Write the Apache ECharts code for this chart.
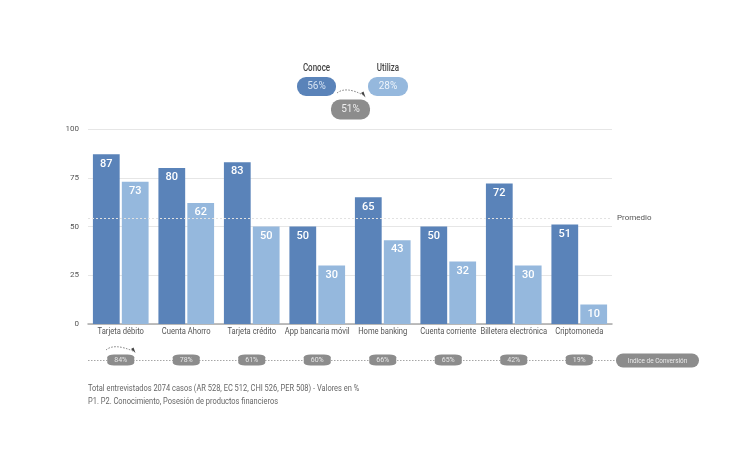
<!DOCTYPE html>
<html>
<head>
<meta charset="utf-8">
<script src="https://cdn.jsdelivr.net/npm/echarts@6/dist/echarts.min.js"></script>
<style>
  html, body { margin: 0; padding: 0; background: #fff; }
  #chart { width: 750px; height: 460px; }
</style>
</head>
<body>
<div id="chart"></div>
<script>
// datos
var categorias = ['Tarjeta débito', 'Cuenta Ahorro', 'Tarjeta crédito', 'App bancaria móvil',
  'Home banking', 'Cuenta corriente', 'Billetera electrónica', 'Criptomoneda'];
var conoce = [87, 80, 83, 50, 65, 50, 72, 51];
var utiliza = [73, 62, 50, 30, 43, 32, 30, 10];
var conversion = [84, 78, 61, 60, 66, 65, 42, 19];
var promedio = 54.25;
var resumen = { conoce: '56%', utiliza: '28%', conversion: '51%' };
var yTicks = [0, 25, 50, 75, 100];

var font = "Roboto, 'Liberation Sans', sans-serif";
var azul = '#5a83b9';
var celeste = '#95b8dd';
var gris = '#8c8c8c';
var estrecho = 0.8; // simula la tipografía condensada del original

var chart = echarts.init(document.getElementById('chart'));

var baseGraphic = [
  // línea punteada del índice de conversión
  {
    type: 'line', z: 1,
    shape: { x1: 88, y1: 360.5, x2: 618, y2: 360.5 },
    style: { stroke: '#8f8f8f', lineWidth: 0.8, lineDash: [1.5, 1.5] }
  },
  {
    type: 'rect', z: 2,
    shape: { x: 616, y: 353.5, width: 83, height: 14, r: 7 },
    style: { fill: gris }
  },
  {
    type: 'text', z: 3, x: 657.5, y: 360.5, scaleX: estrecho,
    style: { text: 'Indice de Conversión', fill: '#eaeaea', fontSize: 8, fontFamily: font, align: 'center', verticalAlign: 'middle' }
  },
  // flecha sobre la primera píldora
  {
    type: 'bezierCurve',
    shape: { x1: 106, y1: 350, cpx1: 114, cpy1: 343, x2: 133, y2: 351 },
    style: { stroke: '#555', fill: null, lineWidth: 0.8, lineDash: [1.5, 1.5] }
  },
  {
    type: 'polygon',
    shape: { points: [[131, 349], [135.5, 353], [133.5, 347.5]] },
    style: { fill: '#444' }
  },
  // resumen superior
  {
    type: 'text', x: 316.5, y: 68, scaleX: estrecho,
    style: { text: 'Conoce', fill: '#444', fontSize: 10, fontWeight: 500, fontFamily: font, align: 'center', verticalAlign: 'middle' }
  },
  {
    type: 'rect',
    shape: { x: 297, y: 77, width: 39, height: 19, r: 9 },
    style: { fill: azul }
  },
  {
    type: 'text', x: 316.5, y: 86.5,
    style: { text: resumen.conoce, fill: '#d5e2f2', fontSize: 10, fontFamily: font, align: 'center', verticalAlign: 'middle' }
  },
  {
    type: 'text', x: 388, y: 68, scaleX: estrecho,
    style: { text: 'Utiliza', fill: '#444', fontSize: 10, fontWeight: 500, fontFamily: font, align: 'center', verticalAlign: 'middle' }
  },
  {
    type: 'rect',
    shape: { x: 368, y: 77, width: 40, height: 19, r: 9 },
    style: { fill: celeste }
  },
  {
    type: 'text', x: 388, y: 86.5,
    style: { text: resumen.utiliza, fill: '#eef4fb', fontSize: 10, fontFamily: font, align: 'center', verticalAlign: 'middle' }
  },
  {
    type: 'rect',
    shape: { x: 331, y: 99.5, width: 39, height: 20, r: 9 },
    style: { fill: gris }
  },
  {
    type: 'text', x: 350.5, y: 109.5,
    style: { text: resumen.conversion, fill: '#eeeeee', fontSize: 10, fontFamily: font, align: 'center', verticalAlign: 'middle' }
  },
  {
    type: 'bezierCurve',
    shape: { x1: 337, y1: 93, cpx1: 346, cpy1: 86, x2: 363, y2: 95 },
    style: { stroke: '#555', fill: null, lineWidth: 0.8, lineDash: [1.5, 1.5] }
  },
  {
    type: 'polygon',
    shape: { points: [[361, 93], [365.5, 97.5], [363.5, 91.5]] },
    style: { fill: '#444' }
  },
  // notas al pie
  {
    type: 'text', x: 88, y: 389, scaleX: 0.83,
    style: { text: 'Total entrevistados 2074 casos (AR 528, EC 512, CHI 526, PER 508) - Valores en %', fill: '#666', fontSize: 9, fontFamily: font, verticalAlign: 'middle' }
  },
  {
    type: 'text', x: 88, y: 402, scaleX: 0.83,
    style: { text: 'P1. P2. Conocimiento, Posesión de productos financieros', fill: '#666', fontSize: 9, fontFamily: font, verticalAlign: 'middle' }
  }
];

var valueLabel = {
  show: true, position: 'insideTop', distance: 4,
  color: '#fff', fontSize: 11, fontWeight: 500, fontFamily: font
};

var option = {
  backgroundColor: '#fff',
  animation: false,
  textStyle: { fontFamily: font },
  grid: [
    { left: 88, right: 138, top: 129, bottom: 136 },
    { left: 88, right: 138, top: 350, height: 20 }
  ],
  xAxis: [{
    type: 'category',
    data: categorias,
    gridIndex: 0,
    axisTick: { show: false },
    axisLine: { lineStyle: { color: '#a9a9a9', width: 1.5 } },
    axisLabel: { show: false }
  }, {
    type: 'category',
    data: categorias,
    gridIndex: 1,
    show: false
  }],
  yAxis: [{
    type: 'value',
    gridIndex: 0,
    min: 0,
    max: 100,
    interval: 25,
    axisLine: { show: false },
    axisTick: { show: false },
    axisLabel: {
      color: '#555', fontSize: 8, margin: 9, fontFamily: font,
      formatter: function (v) { return yTicks.indexOf(v) >= 0 ? v : ''; }
    },
    splitLine: { lineStyle: { color: '#e6e6e6', width: 1 } }
  }, {
    type: 'value',
    gridIndex: 1,
    min: 0,
    max: 2,
    show: false
  }],
  series: [{
    name: 'Conoce',
    type: 'bar',
    data: conoce,
    barGap: '8%',
    barCategoryGap: '15%',
    itemStyle: { color: azul },
    label: valueLabel,
    z: 2
  }, {
    name: 'Utiliza',
    type: 'bar',
    data: utiliza,
    itemStyle: { color: celeste },
    label: valueLabel,
    markLine: {
      silent: true,
      symbol: 'none',
      z: 5,
      lineStyle: { color: '#e2e2e2', type: [2, 2], width: 1.2 },
      label: {
        show: true, position: 'end', formatter: 'Promedio',
        color: '#555', fontSize: 8, fontFamily: font, distance: 5
      },
      data: [{ yAxis: promedio }]
    },
    z: 2
  }, {
    name: 'Conversión',
    type: 'scatter',
    xAxisIndex: 1,
    yAxisIndex: 1,
    data: conversion.map(function (v, i) { return [i, 1, v]; }),
    symbol: 'roundRect',
    symbolSize: [27, 11],
    itemStyle: { color: gris, opacity: 1 },
    label: {
      show: true, position: 'inside',
      color: '#e6e6e6', fontSize: 7, fontFamily: font,
      formatter: function (p) { return p.value[2] + '%'; }
    },
    z: 5
  }],
  graphic: baseGraphic
};

chart.setOption(option);

// etiquetas del eje x condensadas, ubicadas con la escala del eje
var ejeY0 = chart.convertToPixel({ yAxisIndex: 0 }, 0);
var etiquetas = categorias.map(function (c) {
  return {
    type: 'text',
    x: chart.convertToPixel({ xAxisIndex: 0 }, c),
    y: ejeY0 + 7.5,
    scaleX: estrecho,
    style: { text: c, fill: '#555', fontSize: 9.5, fontFamily: font, align: 'center', verticalAlign: 'middle' }
  };
});
chart.setOption({ graphic: baseGraphic.concat(etiquetas) });

window.onresize = function () {
  chart.resize();
};
</script>
</body>
</html>
